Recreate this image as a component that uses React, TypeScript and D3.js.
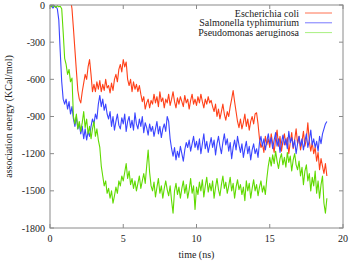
import React from "react";
import * as d3 from "d3";

// association energy (KCal/mol), sampled every 0.1 ns from t = 0
const ecoli = [
  60, 55, 62, 58, 50, 57, 61, 54, 59, 52,
  56, 60, 53, 58, 51, -30, -190, -360, -530, -690,
  -760, -790, -700, -630, -560, -600, -500, -440, -560, -700,
  -640, -700, -620, -680, -610, -700, -640, -690, -600, -670,
  -650, -710, -630, -690, -600, -560, -620, -520, -480, -540,
  -440, -500, -460, -600, -650, -600, -700, -620, -680, -640,
  -700, -650, -720, -780, -740, -840, -790, -760, -830, -770,
  -800, -720, -790, -740, -820, -700, -780, -750, -830, -760,
  -790, -720, -810, -760, -700, -780, -830, -750, -800, -740,
  -780, -820, -730, -790, -760, -840, -770, -720, -800, -760,
  -810, -740, -790, -720, -780, -830, -760, -800, -740, -790,
  -770, -820, -860, -800, -900, -840, -920, -860, -800, -880,
  -930, -860, -900, -820, -760, -690, -780, -860, -940, -990,
  -920, -1000, -950, -880, -980, -920, -1010, -940, -900, -960,
  -880, -870, -960, -1080, -1150, -1120, -1190, -1060, -1130, -1080,
  -1150, -1040, -1120, -1190, -1080, -1010, -1140, -1060, -1180, -1100,
  -1040, -1130, -1070, -1200, -1110, -1030, -1160, -1090, -1000, -1120,
  -1060, -1170, -1100, -1020, -1140, -1080, -950, -1100, -1180, -1110,
  -1200, -1150, -1260, -1190, -1330, -1240, -1300, -1360, -1280, -1380,
];

const salmonella = [
  -10, 0, -25, -5, -15, -30, -120, -380, -620, -760,
  -800, -760, -840, -780, -880, -820, -920, -980, -900, -1000,
  -960, -1040, -980, -1080, -1000, -1090, -1020, -1060, -980, -920,
  -960, -880, -920, -800, -730, -820, -760, -850, -800, -880,
  -920, -860, -980, -900, -1010, -940, -880, -970, -1000, -910,
  -960, -880, -1020, -940, -900, -990, -930, -1010, -870, -960,
  -1000, -920, -980, -900, -1030, -950, -990, -1050, -960, -1020,
  -980, -1060, -1000, -940, -1040, -980, -1070, -1000, -960, -1020,
  -900, -940, -1080, -1160, -1220, -1150, -1250, -1180, -1230, -1140,
  -1200, -1260, -1170, -1110, -1150, -1090, -1180, -1120, -1060, -1150,
  -1100, -1170, -1080, -1200, -1120, -1040, -1160, -1100, -1190, -1130,
  -1070, -1150, -1090, -1210, -1120, -1060, -1140, -1200, -1110, -1040,
  -1130, -1080, -1180, -1110, -1240, -1150, -1090, -1170, -1060, -1130,
  -1190, -1120, -1230, -1160, -1100, -1200, -1140, -1250, -1170, -1120,
  -1200, -1160, -1230, -1110, -1060, -1140, -1080, -1170, -1100, -1040,
  -1120, -1070, -1160, -1090, -1030, -1140, -1080, -1190, -1110, -1050,
  -1130, -1080, -1160, -1020, -1110, -1070, -1150, -1090, -1200, -1120,
  -1060, -1140, -1080, -1170, -1100, -1040, -1150, -1090, -1010, -1130,
  -1080, -1150, -1100, -1180, -1060, -1120, -1040, -1000, -960, -940,
];

const pseudomonas = [
  -5, -15, 0, -10, -20, -5, -15, -10, -30, -220,
  -430, -480, -560, -520, -620, -590, -900, -960, -880, -1000,
  -940, -1020, -950, -860, -990, -920, -1040, -980, -1080, -1000,
  -940, -1060, -1000, -1090, -1150, -1300, -1380, -1460, -1420, -1520,
  -1480, -1560, -1500, -1600, -1540, -1470, -1520, -1420, -1460, -1380,
  -1420, -1350, -1280, -1400, -1340, -1450, -1400, -1480, -1420, -1500,
  -1440, -1380, -1480, -1420, -1360, -1440, -1300, -1170, -1350, -1460,
  -1500, -1430, -1550, -1470, -1400, -1520, -1460, -1560, -1480, -1420,
  -1490, -1540, -1460, -1580, -1680, -1500, -1440, -1530, -1470, -1560,
  -1480, -1420, -1520, -1450, -1560, -1490, -1400, -1520, -1460, -1650,
  -1470, -1530, -1430, -1500, -1410, -1550, -1460, -1390, -1510, -1440,
  -1500, -1420, -1560, -1470, -1400, -1490, -1540, -1450, -1380, -1480,
  -1430, -1520, -1460, -1390, -1500, -1440, -1560, -1470, -1410, -1490,
  -1450, -1530, -1470, -1580, -1420, -1500, -1440, -1560, -1480, -1410,
  -1500, -1450, -1540, -1470, -1420, -1510, -1460, -1530, -1400, -1300,
  -1230, -1300, -1210, -1280, -1180, -1260, -1320, -1240, -1200, -1290,
  -1230, -1310, -1190, -1270, -1220, -1340, -1250, -1200, -1290, -1330,
  -1260, -1380, -1310, -1450, -1340, -1290, -1420, -1360, -1500, -1390,
  -1460, -1340, -1520, -1420, -1560, -1450, -1380, -1600, -1680, -1560,
];

const seriesNames = ["Escherichia coli", "Salmonella typhimurium", "Pseudomonas aeruginosa"];
const seriesColors = ["#ff4018", "#3a44ff", "#60da00"];
const legendColors = ["#ff7050", "#7878ff", "#a8f080"];
const xTicks = [0, 5, 10, 15, 20];
const yTicks = [0, -300, -600, -900, -1200, -1500, -1800];
const STEP = 0.1;

const W = 350;
const H = 266;
const left = 50;
const right = 343;
const top = 5;
const bottom = 228;
const font = "'Liberation Serif', 'Times New Roman', serif";

export default function App() {
  const x = d3.scaleLinear().domain([0, 20]).range([left, right]);
  const y = d3.scaleLinear().domain([-1800, 0]).range([bottom, top]);
  const line = d3
    .line<number>()
    .x((_, i) => x(i * STEP))
    .y((d) => y(d));

  const all = [ecoli, salmonella, pseudomonas];

  return (
    <svg
      width={W}
      height={H}
      style={{ position: "absolute", left: 0, top: 0, background: "#fff" }}
      fontFamily={font}
    >
      <defs>
        <clipPath id="plot">
          <rect x={left} y={top} width={right - left} height={bottom - top} />
        </clipPath>
      </defs>

      <g clipPath="url(#plot)">
        {all.map((s, k) => (
          <path
            key={k}
            d={line(s) || ""}
            fill="none"
            stroke={seriesColors[k]}
            strokeWidth={1.1}
            strokeLinejoin="round"
          />
        ))}
      </g>

      {/* border and ticks */}
      <rect
        x={left}
        y={top}
        width={right - left}
        height={bottom - top}
        fill="none"
        stroke="#8a8a8a"
        strokeWidth={1}
      />
      {xTicks.map((t) => (
        <g key={"x" + t}>
          <line x1={x(t)} x2={x(t)} y1={bottom} y2={bottom - 4} stroke="#8a8a8a" />
          <line x1={x(t)} x2={x(t)} y1={top} y2={top + 4} stroke="#8a8a8a" />
          <text x={x(t)} y={242} fontSize={10} textAnchor="middle" fill="#222">
            {t}
          </text>
        </g>
      ))}
      {yTicks.map((t) => (
        <g key={"y" + t}>
          <line x1={left} x2={left + 4} y1={y(t)} y2={y(t)} stroke="#8a8a8a" />
          <line x1={right} x2={right - 4} y1={y(t)} y2={y(t)} stroke="#8a8a8a" />
          <text x={45} y={y(t) + 3.5} fontSize={10} textAnchor="end" fill="#222">
            {t}
          </text>
        </g>
      ))}

      <text x={(left + right) / 2} y={258} fontSize={10} textAnchor="middle" fill="#222">
        time (ns)
      </text>
      <text
        transform={`translate(12, ${(top + bottom) / 2}) rotate(-90)`}
        fontSize={10}
        textAnchor="middle"
        fill="#222"
      >
        association energy (KCal/mol)
      </text>

      {/* legend */}
      {seriesNames.map((n, k) => (
        <g key={n}>
          <text x={299} y={16.5 + k * 9.8} fontSize={10} textAnchor="end" fill="#222">
            {n}
          </text>
          <line
            x1={305}
            x2={332}
            y1={13 + k * 9.8}
            y2={13 + k * 9.8}
            stroke={legendColors[k]}
            strokeWidth={1}
          />
        </g>
      ))}
    </svg>
  );
}
